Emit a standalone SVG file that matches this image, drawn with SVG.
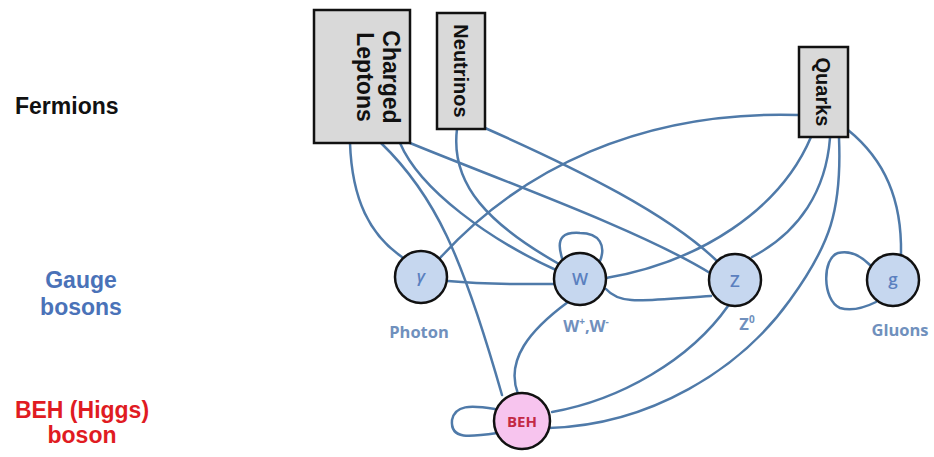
<svg xmlns="http://www.w3.org/2000/svg" width="934" height="457" viewBox="0 0 934 457">
<style>
.bg{fill:#ffffff}
.box{fill:#d9d9d9;stroke:#111;stroke-width:2.5}
.btxt{font-family:"Liberation Sans",Arial,sans-serif;font-weight:bold;fill:#111;text-anchor:middle}
.gb{fill:#c6d7ef;stroke:#111;stroke-width:2.5}
.hb{fill:#f7c4ee;stroke:#111;stroke-width:2.5}
.ntxt{font-family:"Open Sans","Liberation Sans",sans-serif;font-size:17px;font-weight:600;fill:#5b80bf;text-anchor:middle}
.lbl{font-family:"Open Sans","Liberation Sans",sans-serif;font-weight:bold;font-size:16.5px;fill:#7090bd;text-anchor:middle}
.side{font-family:"Liberation Sans",Arial,sans-serif;font-weight:bold;font-size:23px}
.edge{fill:none;stroke:#4f7aa9;stroke-width:2.5;stroke-linecap:round}
</style>
<rect class="bg" x="0" y="0" width="934" height="457"/>

<g id="row-labels">
<text class="side" x="15" y="114" fill="#111">Fermions</text>
<text class="side" x="81" y="288" fill="#4a72b8" text-anchor="middle">Gauge</text>
<text class="side" x="81" y="315" fill="#4a72b8" text-anchor="middle">bosons</text>
<text class="side" x="82" y="418" fill="#e01b22" text-anchor="middle">BEH (Higgs)</text>
<text class="side" x="82" y="443" fill="#e01b22" text-anchor="middle">boson</text>
</g>

<g id="connectors">
<!-- Charged Leptons -->
<path class="edge" d="M350,143 C352,200 370,235 402,257"/>
<path class="edge" d="M381,143 C435,195 462,255 502,395"/>
<path class="edge" d="M400,143 C420,190 490,240 556,270"/>
<path class="edge" d="M410,143 C500,180 640,230 710,273"/>
<!-- Neutrinos -->
<path class="edge" d="M457,129 C450,185 490,225 559,264"/>
<path class="edge" d="M485,128 C580,170 670,215 718,262"/>
<!-- Quarks -->
<path class="edge" d="M440,258 C520,170 640,110 799,115"/>
<path class="edge" d="M811,137 C780,210 700,262 606,278"/>
<path class="edge" d="M830,138 C826,190 800,232 752,257"/>
<path class="edge" d="M839,138 C842,210 830,245 790,300 C740,370 650,425 549,428"/>
<path class="edge" d="M848,130 C885,160 902,200 901,254"/>
<!-- gauge / higgs -->
<path class="edge" d="M448,281 C490,285 520,284 554,284"/>
<path class="edge" d="M606,289 C620,305 640,301 711,296"/>
<path class="edge" d="M568,302 C530,330 505,360 518,394"/>
<path class="edge" d="M728,306 C690,360 620,400 552,412"/>
<!-- self loops -->
<path class="edge" d="M562,258 C555,236 565,232 580,233 C600,233 606,246 600,261"/>
<path class="edge" d="M870,265 C860,255 850,250 838,253 C822,258 822,300 840,308 C855,312 868,306 876,302"/>
<path class="edge" d="M495,409 C470,405 455,405 452,420 C450,440 470,437 498,433"/>
</g>

<g id="charged-leptons">
<rect class="box" x="314" y="10" width="96" height="133"/>
<text class="btxt" font-size="23" transform="translate(383,77) rotate(90)">Charged</text>
<text class="btxt" font-size="23" transform="translate(357,77) rotate(90)">Leptons</text>
</g>
<g id="neutrinos">
<rect class="box" x="437" y="13" width="48" height="116"/>
<text class="btxt" font-size="20" transform="translate(454,71) rotate(90)">Neutrinos</text>
</g>
<g id="quarks">
<rect class="box" x="799" y="47" width="49" height="90"/>
<text class="btxt" font-size="20" transform="translate(816,92) rotate(90)">Quarks</text>
</g>

<g id="photon">
<circle class="gb" cx="421" cy="277" r="26"/>
<text class="ntxt" x="421" y="282" font-style="italic" font-size="16">γ</text>
<text class="lbl" x="419" y="338">Photon</text>
</g>
<g id="w-boson">
<circle class="gb" cx="580" cy="279" r="26"/>
<text class="ntxt" x="580" y="285">W</text>
<text class="lbl" x="586" y="332">W<tspan font-size="10" dy="-7">+</tspan><tspan dy="7">,W</tspan><tspan font-size="10" dy="-7">-</tspan></text>
</g>
<g id="z-boson">
<circle class="gb" cx="735" cy="280" r="26"/>
<text class="ntxt" x="735" y="287">Z</text>
<text class="lbl" x="747" y="330">Z<tspan font-size="10" dy="-7">0</tspan></text>
</g>
<g id="gluon">
<circle class="gb" cx="893" cy="280" r="26"/>
<text class="ntxt" x="893" y="285">g</text>
<text class="lbl" x="900" y="336">Gluons</text>
</g>
<g id="higgs">
<circle class="hb" cx="522" cy="421" r="28"/>
<text x="522" y="427" text-anchor="middle" font-family="Open Sans, Liberation Sans, sans-serif" font-weight="bold" font-size="15" fill="#c32a45">BEH</text>
</g>
</svg>
